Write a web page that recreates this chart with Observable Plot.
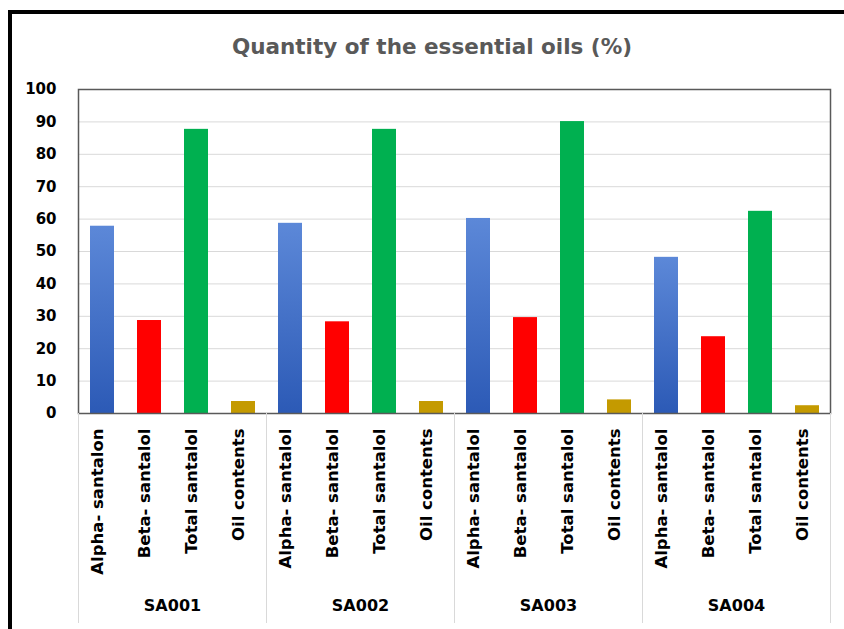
<!DOCTYPE html>
<html>
<head>
<meta charset="utf-8">
<script src="https://cdn.jsdelivr.net/npm/d3@7"></script>
<script src="https://cdn.jsdelivr.net/npm/@observablehq/plot@0.6"></script>
<style>
  html, body { margin: 0; padding: 0; background: #fff; }
  body { width: 844px; height: 629px; position: relative; overflow: hidden; }
  #wrap { position: absolute; left: 8px; top: 10px; width: 836px; height: 619px;
          border-top: 4px solid #000; border-left: 4px solid #000; box-sizing: border-box; }
  #title { height: 50px; box-sizing: border-box; padding-top: 20px; padding-left: 8px;
           text-align: center; font-family: "DejaVu Sans", sans-serif; font-weight: bold;
           font-size: 21.5px; line-height: 26px; color: #595959; }
  #chart svg { display: block; }
</style>
</head>
<body>
<div id="wrap">
  <div id="title">Quantity of the essential oils (%)</div>
  <div id="chart"></div>
</div>
<script>
const groups = ["SA001", "SA002", "SA003", "SA004"];
const catKeys = ["alpha", "beta", "total", "oil"];
const labelsSA001 = ["Alpha- santalon", "Beta- santalol", "Total santalol", "Oil contents"];
const labelsOther = ["Alpha- santalol", "Beta- santalol", "Total santalol", "Oil contents"];
const alphaValues = [57.8, 58.7, 60.2, 48.2];
const betaValues  = [28.7, 28.3, 29.6, 23.7];
const totalValues = [87.7, 87.7, 90.1, 62.4];
const oilValues   = [3.7, 3.7, 4.2, 2.4];
const yTicks = [0, 10, 20, 30, 40, 50, 60, 70, 80, 90, 100];
const barColors = ["url(#alphaGrad)", "#FF0000", "#00B050", "#C49A00"];

const series = [alphaValues, betaValues, totalValues, oilValues];
const rows = [];
groups.forEach((g, gi) => {
  const labels = gi === 0 ? labelsSA001 : labelsOther;
  catKeys.forEach((k, ki) => {
    rows.push({group: g, key: k, label: labels[ki], value: series[ki][gi]});
  });
});

const defsMark = () => {
  const defs = d3.create("svg:defs");
  const grad = defs.append("linearGradient").attr("id", "alphaGrad")
    .attr("x1", 0).attr("y1", 0).attr("x2", 0).attr("y2", 1);
  grad.append("stop").attr("offset", "0%").attr("stop-color", "#5C88D8");
  grad.append("stop").attr("offset", "100%").attr("stop-color", "#2C5AB6");
  return defs.node();
};

const W = 832, H = 565, mT = 25, mB = 216;
const plotH = H - mT - mB;

const chart = Plot.plot({
  width: W, height: H,
  marginTop: mT, marginBottom: mB, marginLeft: 65, marginRight: 13,
  style: {fontFamily: "DejaVu Sans, sans-serif", fontWeight: "bold", fontSize: "15px", color: "#000", background: "#fff"},
  fx: {domain: groups, padding: 0, axis: null},
  x: {domain: catKeys, paddingInner: 0.49, paddingOuter: 0.245, axis: null},
  y: {domain: [0, 100], ticks: yTicks, tickSize: 0, tickPadding: 22, label: null},
  color: {domain: catKeys, range: barColors},
  marks: [
    defsMark,
    Plot.ruleY(yTicks.slice(1, -1), {stroke: "#d9d9d9", strokeWidth: 1}),
    Plot.barY(rows, {fx: "group", x: "key", y: "value", fill: "key"}),
    Plot.frame({facet: "super", stroke: "#595959", strokeWidth: 1.5}),
    Plot.frame({anchor: "left", stroke: "#d9d9d9", insetTop: plotH, insetBottom: -209}),
    Plot.frame({anchor: "right", stroke: "#d9d9d9", insetTop: plotH, insetBottom: -209}),
    Plot.text(rows, {fx: "group", x: "key", text: "label", frameAnchor: "bottom",
      rotate: -90, textAnchor: "end", dy: 15, fontSize: 16.5, fontWeight: "bold"}),
    Plot.text(groups, {fx: d => d, text: d => d, frameAnchor: "bottom",
      dy: 197, fontSize: 16, fontWeight: "bold"})
  ]
});
document.getElementById("chart").appendChild(chart);
</script>
</body>
</html>
